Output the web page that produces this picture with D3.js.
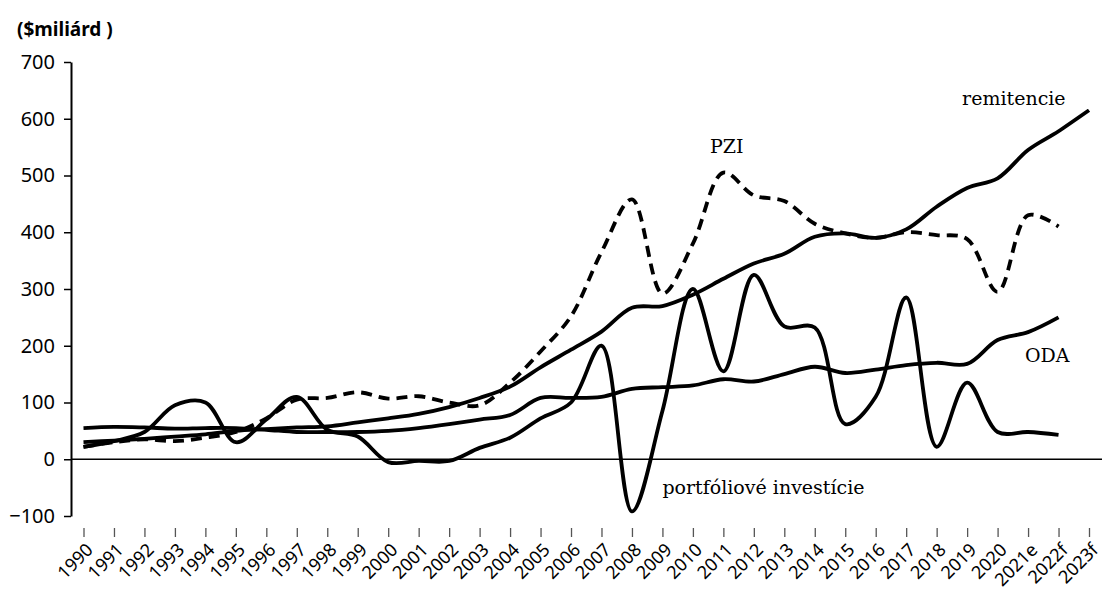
<!DOCTYPE html>
<html>
<head>
<meta charset="utf-8">
<script src="https://cdn.jsdelivr.net/npm/d3@7"></script>
<style>
    body { margin: 0; background: #fff; }
    .axis text { font-family: "Noto Sans", sans-serif; fill: #000; }
    .series-label { font-family: "DejaVu Serif", serif; font-size: 19px; fill: #000; }
</style>
</head>
<body>
<svg id="chart"></svg>
<script>
// years on the x axis
const years = ["1990", "1991", "1992", "1993", "1994", "1995", "1996", "1997", "1998", "1999",
    "2000", "2001", "2002", "2003", "2004", "2005", "2006", "2007", "2008", "2009",
    "2010", "2011", "2012", "2013", "2014", "2015", "2016", "2017", "2018", "2019",
    "2020", "2021e", "2022f", "2023f"];

const yTicks = [-100, 0, 100, 200, 300, 400, 500, 600, 700];

// $ billion
const remitencie = [30, 33, 36, 40, 44, 50, 53, 56, 58, 65,
    72, 80, 92, 108, 128, 162, 193, 225, 267, 270,
    290, 318, 345, 362, 392, 398, 390, 405, 445, 478,
    495, 545, 578, 615];

const pzi = [22, 30, 35, 32, 38, 48, 72, 105, 108, 118,
    107, 111, 100, 95, 135, 190, 252, 365, 458, 292,
    380, 505, 465, 455, 415, 398, 390, 400, 395, 388,
    295, 430, 410];

const oda = [55, 57, 56, 54, 55, 55, 52, 48, 48, 48,
    50, 55, 62, 70, 78, 108, 108, 110, 124, 127,
    130, 141, 137, 150, 163, 152, 158, 166, 170, 168,
    210, 224, 250];

const portfolio = [22, 32, 48, 95, 100, 30, 70, 110, 52, 40,
    -5, -3, -3, 20, 38, 72, 100, 200, -92, 85,
    300, 155, 325, 234, 232, 62, 110, 285, 22, 135,
    48, 48, 43];

class FlowChart {
    constructor(_config) {
        this.config = {
            parentElement: _config.parentElement,
            containerWidth: 1102,
            containerHeight: 592,
        };
        this.series = [
            { name: "remitencie", values: remitencie, dashed: false },
            { name: "PZI", values: pzi, dashed: true },
            { name: "ODA", values: oda, dashed: false },
            { name: "portfóliové investície", values: portfolio, dashed: false },
        ];
        this.initVis();
    }

    initVis() {
        let vis = this;

        vis.svg = d3.select(vis.config.parentElement)
            .attr('width', vis.config.containerWidth)
            .attr('height', vis.config.containerHeight);

        vis.xScale = d3.scalePoint().domain(years).range([83.5, 1089]);
        vis.yScale = d3.scaleLinear().domain([-100, 700]).range([516, 62]);

        vis.yAxis = d3.axisLeft(vis.yScale)
            .tickValues(yTicks)
            .tickSizeInner(7)
            .tickSizeOuter(0)
            .tickPadding(9);

        vis.xAxis = d3.axisBottom(vis.xScale)
            .tickSizeInner(9)
            .tickSizeOuter(0);

        // unit title
        vis.svg.append("text")
            .attr("x", 17)
            .attr("y", 36)
            .attr("font-family", "Noto Sans, sans-serif")
            .attr("font-weight", "bold")
            .attr("font-size", 19)
            .text("($miliárd )");

        vis.renderVis();
    }

    renderVis() {
        let vis = this;

        // y axis
        const yAxisG = vis.svg.append('g')
            .attr('class', 'axis y-axis')
            .attr('transform', `translate(71,0)`)
            .call(vis.yAxis);
        yAxisG.select(".domain").attr("stroke", "#000").attr("stroke-width", 2);
        yAxisG.selectAll(".tick line").attr("stroke", "#000").attr("stroke-width", 1.5);
        yAxisG.selectAll("text").attr("font-size", 20);

        // zero line
        vis.svg.append("line")
            .attr("x1", 71)
            .attr("x2", vis.config.containerWidth)
            .attr("y1", vis.yScale(0))
            .attr("y2", vis.yScale(0))
            .attr("stroke", "#000")
            .attr("stroke-width", 1.6);

        // x axis, ticks only
        const xAxisG = vis.svg.append('g')
            .attr('class', 'axis x-axis')
            .attr('transform', `translate(0,528)`)
            .call(vis.xAxis);
        xAxisG.select(".domain").remove();
        xAxisG.selectAll(".tick line").attr("stroke", "#555").attr("stroke-width", 1.3);
        xAxisG.selectAll("text")
            .attr("font-size", 18)
            .attr("x", 0)
            .attr("y", 0)
            .attr("dy", 0)
            .attr("transform", "translate(10,23) rotate(-45)")
            .style("text-anchor", "end");

        let line = d3.line()
            .x((d, i) => vis.xScale(years[i]))
            .y(d => vis.yScale(d))
            .curve(d3.curveCatmullRom.alpha(0.5));

        vis.svg.selectAll(".series")
            .data(vis.series)
            .join("path")
            .attr("class", "series")
            .attr("d", d => line(d.values))
            .attr("fill", "none")
            .attr("stroke", "#000")
            .attr("stroke-width", 3.8)
            .attr("stroke-linejoin", "round")
            .attr("stroke-dasharray", d => d.dashed ? "11,7" : null);

        // series labels
        const labels = [
            { text: "remitencie", year: "2019", dx: -5, value: 624 },
            { text: "PZI", year: "2010", dx: 17, value: 540 },
            { text: "ODA", year: "2021e", dx: -3, value: 171 },
            { text: "portfóliové investície", year: "2009", dx: 0, value: -62 },
        ];
        vis.svg.selectAll(".series-label")
            .data(labels)
            .join("text")
            .attr("class", "series-label")
            .attr("x", d => vis.xScale(d.year) + d.dx)
            .attr("y", d => vis.yScale(d.value))
            .text(d => d.text);
    }
}

new FlowChart({ parentElement: "#chart" });
</script>
</body>
</html>
